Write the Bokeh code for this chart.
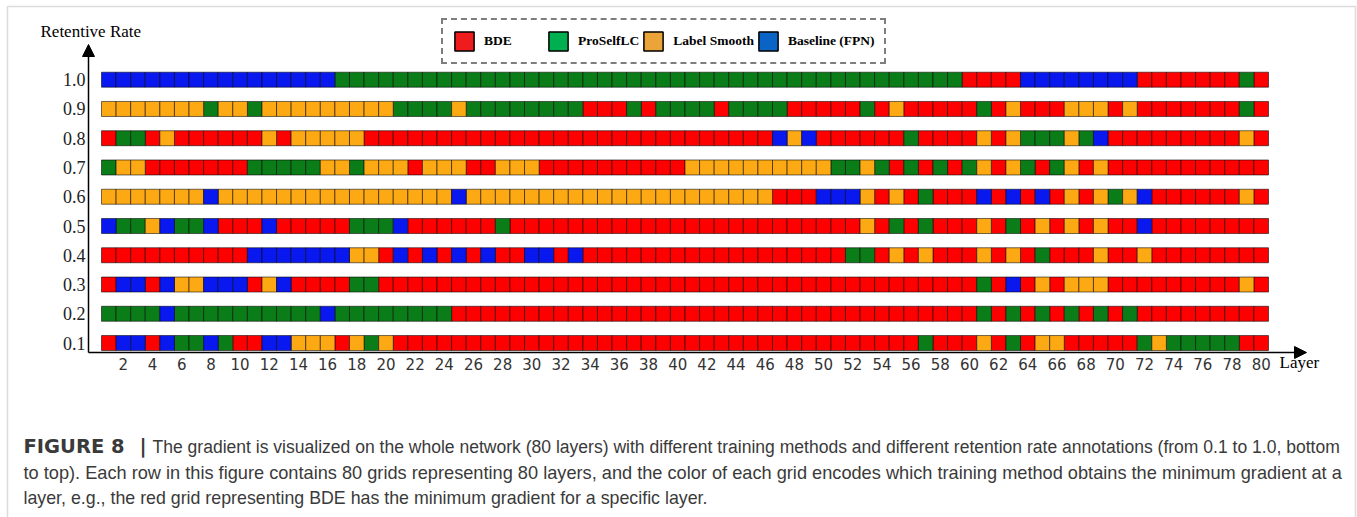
from bokeh.plotting import figure
from bokeh.models import (Range1d, Legend, LegendItem, Label, Arrow, NormalHead,
                          BoxAnnotation, ColumnDataSource)
from bokeh.embed import file_html
from bokeh.resources import INLINE

# Retention rates (rows, bottom to top) and layer indices (columns)
rates = [0.1, 0.2, 0.3, 0.4, 0.5, 0.6, 0.7, 0.8, 0.9, 1.0]
rate_labels = ["0.1", "0.2", "0.3", "0.4", "0.5", "0.6", "0.7", "0.8", "0.9", "1.0"]
layers = list(range(1, 81))
x_ticks = list(range(2, 81, 2))

# Training method with the minimum gradient at each layer, one letter per layer
# (layers 1-80, grouped by ten): R = BDE, G = ProSelfLC, O = Label Smooth, B = Baseline (FPN)
rate_1_0 = ("BBBBBBBBBB" "BBBBBBGGGG" "GGGGGGGGGG" "GGGGGGGGGG"
            "GGGGGGGGGG" "GGGGGGGGGR" "RRRBBBBBBB" "BRRRRRRRGR")
rate_0_9 = ("OOOOOOOGOO" "GOOOOOOOOO" "GGGGOGGGGG" "GGGRRRGRGG"
            "GGRGGGGRRR" "RRGRORRRRR" "GRORRROOOR" "ORRRRRRRGR")
rate_0_8 = ("RGGRORRRRR" "ROROOOOORR" "RRRRRRRRRR" "RRRRRRRRRR"
            "RRRRRRBOBR" "RRRRRGRRRR" "OROGGGOGBR" "RRRRRRRROR")
rate_0_7 = ("GOORRRRRRR" "GGGGGOOGOO" "OROOORROOO" "RRRRRRRRRR"
            "OOOOOOOOOO" "GGOGRGRGRG" "OROGRGOROR" "RRRRRRRRRR")
rate_0_6 = ("OOOOOOOBOO" "OOOOOOOOOO" "OOOOBOOOOO" "OOOOOOOOOO"
            "OOOOOORRRB" "BBORORGRRR" "BRBRBROROG" "OBRRRRRROR")
rate_0_5 = ("BGGOBGGBRR" "RBRRRRRGGG" "BRRRRRRGRR" "RRRRRRRRRR"
            "RRRRRRRRRR" "RRORGRGRRR" "ORGROROROR" "RBRRRRRRRR")
rate_0_4 = ("RRRRRRRRRR" "BBBBBBBOOR" "BRBRBRBRRB" "BRBRRRRRRR"
            "RRRRRRRRRR" "RGGRORORRR" "ORORGRRROR" "RORRRRRRRR")
rate_0_3 = ("RBBRBOOBBB" "ROBRRRRGGR" "RRRRRRRRRR" "RRRRRRRRRR"
            "RRRRRRRRRR" "RRRRRRRRRR" "GRBROROOOR" "RRRRRRRROR")
rate_0_2 = ("GGGGBGGGGG" "GGGGGBGGGG" "GGGGRRRRRR" "RRRRRRRRRR"
            "RRRRRRRRRR" "RRRRRRRRRR" "GRGRGRGRGR" "GRRRRRRRRR")
rate_0_1 = ("RBBRBGGBGR" "RBBOOOROGO" "RRRRRRRRRR" "RRRRRRRRRR"
            "RRRRRRRRRR" "RRRRRRGRRR" "ORGROORRRR" "RGOGGGGGRR")

rows = [rate_0_1, rate_0_2, rate_0_3, rate_0_4, rate_0_5,
        rate_0_6, rate_0_7, rate_0_8, rate_0_9, rate_1_0]

methods = ["BDE", "ProSelfLC", "Label Smooth", "Baseline (FPN)"]
codes = ["R", "G", "O", "B"]
cell_colors = ["#FF0000", "#0B7D18", "#FCA914", "#0A18F0"]
legend_colors = ["#EE1C1C", "#00B050", "#EAA43A", "#0A64C6"]

# ---- page geometry (pixels) ----
W, H = 1357, 517
AX_X, AX_Y = 88, 352         # axis corner
AX_TOP, AX_RIGHT = 44, 1306  # arrow tips
CELL_X0 = 101.0              # left edge of layer 1
CELL_W = 14.5875             # pixels per layer
ROW_TOP = 79.2               # centre of the top row
ROW_PX = 292.6               # pixels per unit of retention rate
CELL_H_PX = 15.0


def dx(px):
    """page pixel column -> layer coordinate"""
    return 0.5 + (px - CELL_X0) / CELL_W


def dy(py):
    """page pixel row -> rate coordinate"""
    return 1.0 - (py - ROW_TOP) / ROW_PX


def sy(py):
    return H - py


p = figure(width=W, height=H, output_backend="svg", toolbar_location=None,
           x_range=Range1d(dx(0), dx(W)), y_range=Range1d(dy(H), dy(0)),
           x_axis_location=None, y_axis_location=None, min_border=0)
p.outline_line_color = None
p.grid.visible = False
p.background_fill_color = "white"
p.border_fill_color = "white"

# grid cells, one renderer per method
for code, color in zip(codes, cell_colors):
    xs, ys = [], []
    for rate, row in zip(rates, rows):
        for layer, c in zip(layers, row):
            if c == code:
                xs.append(layer)
                ys.append(rate)
    src = ColumnDataSource(dict(x=xs, y=ys))
    p.rect(x="x", y="y", width=1.0, height=CELL_H_PX / ROW_PX, source=src,
           fill_color=color, line_color="black", line_alpha=0.55, line_width=1)

# legend swatches (glyphs used only for the legend keys)
nan = float("nan")
legend_items = []
for name, color in zip(methods, legend_colors):
    r = p.rect(x=[nan], y=[nan], width=1, height=1, fill_color=color,
               line_color="black", line_width=1.5)
    legend_items.append(LegendItem(label=name, renderers=[r]))

legend = Legend(items=legend_items, orientation="horizontal",
                location=(441, sy(64)),
                glyph_width=24, glyph_height=24, label_height=24,
                label_standoff=8, spacing=2, padding=9, label_width=60,
                border_line_color="black", border_line_width=2,
                border_line_dash="14 7", background_fill_color="white",
                background_fill_alpha=1.0,
                label_text_font="Liberation Serif", label_text_font_style="bold",
                label_text_font_size="13.5px", label_text_color="black")
p.add_layout(legend)

# axis lines with arrow heads
x0, y0 = dx(AX_X), dy(AX_Y)
p.add_layout(Arrow(end=NormalHead(size=12, fill_color="black", line_color="black"),
                   x_start=x0, y_start=y0, x_end=x0, y_end=dy(AX_TOP),
                   line_width=1.5, line_color="black"))
p.add_layout(Arrow(end=NormalHead(size=12, fill_color="black", line_color="black"),
                   x_start=x0, y_start=y0, x_end=dx(AX_RIGHT), y_end=y0,
                   line_width=1.5, line_color="black"))

# tick labels
p.text(x=x_ticks, y=[dy(363)] * len(x_ticks), text=[str(t) for t in x_ticks],
       text_font={"value": "DejaVu Sans"}, text_font_size="15px",
       text_color="#333333", text_align="center", text_baseline="middle")
p.text(x=[dx(85)] * len(rates), y=rates, text=rate_labels,
       text_font={"value": "Liberation Serif"}, text_font_size="18px",
       text_color="#222222", text_align="right", text_baseline="middle")

# axis titles
p.add_layout(Label(x=40, y=sy(31), x_units="screen", y_units="screen",
                   text="Retentive Rate", text_font="Liberation Serif",
                   text_font_size="17px", text_baseline="middle", text_color="black"))
p.add_layout(Label(x=1279, y=sy(362), x_units="screen", y_units="screen",
                   text="Layer", text_font="Liberation Serif",
                   text_font_size="17px", text_baseline="middle", text_color="black"))

# caption (full lines are set to the same right margin)
cap_font = "Liberation Sans"
cap_color = "#3a3a3a"
p.add_layout(Label(x=23, y=sy(446), x_units="screen", y_units="screen",
                   text="FIGURE 8", text_font="DejaVu Sans", text_font_style="bold",
                   text_font_size="19.5px", text_baseline="middle", text_color=cap_color))
p.add_layout(Label(x=139, y=sy(446), x_units="screen", y_units="screen",
                   text="|", text_font="DejaVu Sans", text_font_style="bold",
                   text_font_size="19.5px", text_baseline="middle", text_color=cap_color))
p.add_layout(Label(x=152, y=sy(446), x_units="screen", y_units="screen",
                   text="The gradient is visualized on the whole network (80 layers) with different "
                        "training methods and different retention rate annotations (from 0.1 to 1.0, bottom",
                   text_font=cap_font, text_font_size="17.55px",
                   text_baseline="middle", text_color=cap_color))
p.add_layout(Label(x=23, y=sy(472), x_units="screen", y_units="screen",
                   text="to top). Each row in this figure contains 80 grids representing 80 layers, and the "
                        "color of each grid encodes which training method obtains the minimum gradient at a",
                   text_font=cap_font, text_font_size="18.2px",
                   text_baseline="middle", text_color=cap_color))
p.add_layout(Label(x=23, y=sy(497), x_units="screen", y_units="screen",
                   text="layer, e.g., the red grid representing BDE has the minimum gradient for a specific layer.",
                   text_font=cap_font, text_font_size="17.8px",
                   text_baseline="middle", text_color=cap_color))

# page border
p.add_layout(BoxAnnotation(left=7, right=1355, top=sy(6), bottom=sy(540),
                           left_units="screen", right_units="screen",
                           top_units="screen", bottom_units="screen",
                           fill_alpha=0, line_color="#8a8a8a", line_width=1.5))

open("out.html", "w").write(file_html(p, INLINE))
